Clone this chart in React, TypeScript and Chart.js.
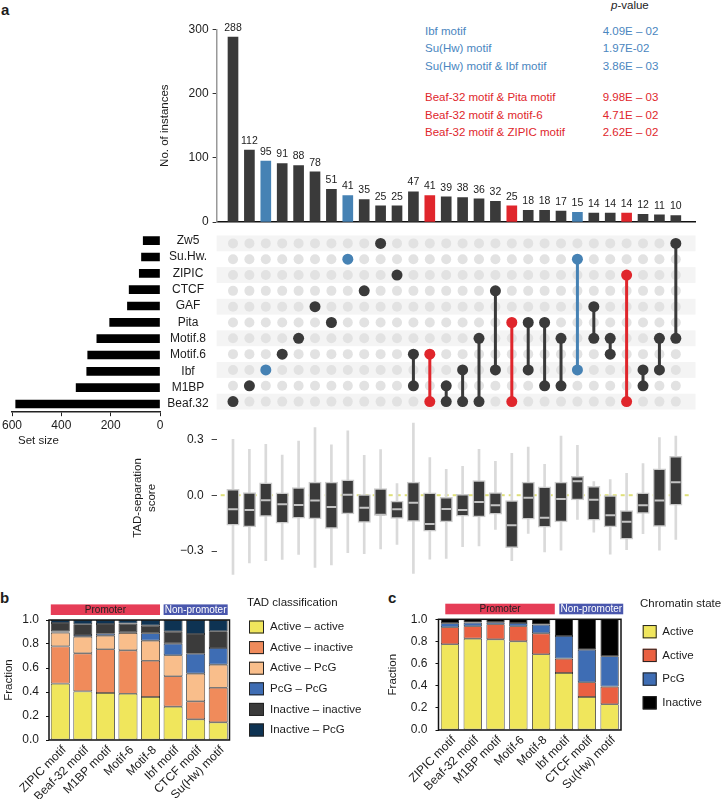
import React, { useEffect, useRef } from 'react';
import { Chart, registerables } from 'chart.js';

Chart.register(...registerables);

const FONT_FAMILY = '"Liberation Sans", Arial, Helvetica, sans-serif';
const INK = '#1c1c1c';
Chart.defaults.font.family = FONT_FAMILY;
Chart.defaults.color = INK;

// ---------------- Panel a: UpSet data ----------------
const setNames = ['Beaf.32', 'M1BP', 'Ibf', 'Motif.6', 'Motif.8', 'Pita', 'GAF', 'CTCF', 'ZIPIC', 'Su.Hw.', 'Zw5'];
const setSizes = [585, 340, 297, 293, 256, 204, 132, 125, 84, 75, 68];
const setSizeTicks = [0, 200, 400, 600];

const intersectionCounts = [288, 112, 95, 91, 88, 78, 51, 41, 35, 25, 25, 47, 41, 39, 38, 36, 32, 25, 18, 18, 17, 15, 14, 14, 14, 12, 11, 10];
const intersectionSets = [
  ['Beaf.32'], ['M1BP'], ['Ibf'], ['Motif.6'], ['Motif.8'], ['GAF'], ['Pita'], ['Su.Hw.'], ['CTCF'], ['Zw5'], ['ZIPIC'],
  ['Motif.6', 'M1BP'], ['Motif.6', 'Beaf.32'], ['M1BP', 'Beaf.32'], ['Ibf', 'Beaf.32'], ['Motif.8', 'Beaf.32'],
  ['CTCF', 'Ibf'], ['Pita', 'Beaf.32'], ['Pita', 'Ibf'], ['Pita', 'M1BP'], ['Motif.8', 'M1BP'], ['Su.Hw.', 'Ibf'],
  ['GAF', 'Motif.8'], ['Motif.8', 'Motif.6'], ['ZIPIC', 'Beaf.32'], ['Ibf', 'M1BP'], ['Motif.8', 'Ibf'], ['Zw5', 'Motif.8'],
];
const intersectionGroup = ['', '', 'blue', '', '', '', '', 'blue', '', '', '', '', 'red', '', '', '', '', 'red', '', '', '', 'blue', '', '', 'red', '', '', ''];
const countTicks = [0, 100, 200, 300];

// TAD-separation score box plots (one per intersection)
const boxMax = [0.30, 0.246, 0.273, 0.216, 0.291, 0.363, 0.270, 0.346, 0.214, 0.245, 0.063, 0.388, 0.202, 0.139, 0.155, 0.246, 0.182, 0.225, 0.259, 0.166, 0.318, 0.268, 0.073, 0.084, 0.118, 0.170, 0.309, 0.318];
const boxQ3 = [0.032, 0.014, 0.066, 0.013, 0.041, 0.070, 0.070, 0.082, 0.004, 0.036, -0.032, 0.070, 0.013, -0.012, 0.005, 0.079, 0.014, -0.029, 0.070, 0.045, 0.070, 0.102, 0.048, -0.002, -0.082, 0.013, 0.141, 0.209];
const boxMedian = [-0.075, -0.080, -0.027, -0.048, -0.052, -0.029, -0.064, 0.002, -0.068, -0.105, -0.075, -0.041, -0.155, -0.074, -0.080, -0.036, -0.054, -0.161, -0.013, -0.121, -0.020, 0.075, -0.025, -0.107, -0.143, -0.054, -0.029, 0.070];
const boxQ1 = [-0.161, -0.170, -0.114, -0.150, -0.123, -0.127, -0.179, -0.100, -0.146, -0.109, -0.125, -0.141, -0.193, -0.144, -0.113, -0.116, -0.102, -0.282, -0.129, -0.171, -0.143, -0.025, -0.134, -0.170, -0.236, -0.098, -0.168, -0.054];
const boxMin = [-0.425, -0.363, -0.352, -0.345, -0.318, -0.388, -0.375, -0.309, -0.314, -0.288, -0.264, -0.420, -0.343, -0.339, -0.277, -0.273, -0.184, -0.352, -0.205, -0.304, -0.295, -0.130, -0.198, -0.316, -0.293, -0.207, -0.295, -0.238];
const scoreTicks = [-0.3, 0, 0.3];

const pValueNames = ['Ibf motif', 'Su(Hw) motif', 'Su(Hw) motif & Ibf motif', 'Beaf-32 motif & Pita motif', 'Beaf-32 motif & motif-6', 'Beaf-32 motif & ZIPIC motif'];
const pValueTexts = ['4.09E – 02', '1.97E-02', '3.86E – 03', '9.98E – 03', '4.71E – 02', '2.62E – 02'];
const pValueGroup = ['blue', 'blue', 'blue', 'red', 'red', 'red'];

// ---------------- Panel b / c data ----------------
const motifLabels = ['ZIPIC motif', 'Beaf-32 motif', 'M1BP motif', 'Motif-6', 'Motif-8', 'Ibf motif', 'CTCF motif', 'Su(Hw) motif'];
const promoterGroups = [
  { label: 'Promoter', from: 0, to: 4 },
  { label: 'Non-promoter', from: 5, to: 7 },
];
const fractionTicks = [0, 0.2, 0.4, 0.6, 0.8, 1.0];

const tadClasses = ['Active – active', 'Active – inactive', 'Active – PcG', 'PcG – PcG', 'Inactive – inactive', 'Inactive – PcG'];
const tadActiveActive = [0.470, 0.405, 0.392, 0.386, 0.358, 0.278, 0.172, 0.147];
const tadActiveInactive = [0.310, 0.317, 0.364, 0.361, 0.303, 0.253, 0.150, 0.289];
const tadActivePcG = [0.115, 0.139, 0.113, 0.145, 0.167, 0.175, 0.231, 0.192];
const tadPcGPcG = [0.010, 0.014, 0.017, 0.005, 0.061, 0.097, 0.166, 0.139];
const tadInactiveInactive = [0.070, 0.089, 0.081, 0.073, 0.064, 0.100, 0.164, 0.139];
const tadInactivePcG = [0.025, 0.036, 0.033, 0.030, 0.047, 0.097, 0.117, 0.094];
const tadSeries = [tadActiveActive, tadActiveInactive, tadActivePcG, tadPcGPcG, tadInactiveInactive, tadInactivePcG];

const chromatinStates = ['Active', 'Active', 'PcG', 'Inactive'];
const chromActiveA = [0.774, 0.825, 0.819, 0.801, 0.684, 0.515, 0.298, 0.232];
const chromActiveB = [0.154, 0.112, 0.136, 0.136, 0.189, 0.130, 0.133, 0.160];
const chromPcG = [0.036, 0.033, 0.018, 0.030, 0.079, 0.204, 0.295, 0.274];
const chromInactive = [0.036, 0.030, 0.027, 0.033, 0.048, 0.151, 0.274, 0.334];
const chromSeries = [chromActiveA, chromActiveB, chromPcG, chromInactive];

// ---------------- styles ----------------
const DARK = '#3a3a3a';
const BLUE = '#4682b4';
const RED = '#e0262c';
const groupColor = (g: string) => (g === 'blue' ? BLUE : g === 'red' ? RED : DARK);
const tadColors = ['#f0e65c', '#f08b5b', '#f9be8b', '#3e6db4', '#3b3b3b', '#0e3353'];
const chromColors = ['#f0e65c', '#ea6041', '#3e6db4', '#000000'];
const bannerColors = ['#e63d57', '#4a57ad'];
const bannerText = ['#222222', '#ffffff'];

const X_MIN = -1;
const X_MAX = 28.2;
const PLOT_LEFT = 216.6;
const PLOT_RIGHT_PAD = 26.5;

const f = (size: number, weight: string = 'normal') => ({ family: FONT_FAMILY, size, weight });
const rowOf = (name: string) => setNames.indexOf(name);

const baseOptions = {
  responsive: false,
  maintainAspectRatio: false,
  animation: false,
  events: [],
};

// ---------------- chart configs ----------------
function countsConfig() {
  const labelPlugin = {
    id: 'countLabels',
    afterDatasetsDraw(chart: any) {
      const ctx = chart.ctx;
      const meta = chart.getDatasetMeta(0);
      ctx.save();
      ctx.font = `10.5px ${FONT_FAMILY}`;
      ctx.fillStyle = INK;
      ctx.textAlign = 'center';
      ctx.textBaseline = 'bottom';
      meta.data.forEach((el: any, i: number) => ctx.fillText(String(intersectionCounts[i]), el.x, el.y - 4));
      ctx.restore();
    },
  };
  return {
    type: 'bar',
    data: {
      datasets: [{
        data: intersectionCounts.map((c, i) => ({ x: i, y: c })),
        backgroundColor: intersectionGroup.map(groupColor),
        barThickness: 10,
      }],
    },
    options: {
      ...baseOptions,
      layout: { padding: { left: 158, right: PLOT_RIGHT_PAD, top: 29.3, bottom: 18 } },
      plugins: { legend: { display: false }, tooltip: { enabled: false } },
      scales: {
        x: {
          type: 'linear', min: X_MIN, max: X_MAX, offset: false,
          ticks: { display: false },
          grid: { display: false, drawTicks: false },
          border: { display: true, color: '#111', width: 1.5 },
          afterFit: (s: any) => { s.height = 0; },
        },
        y: {
          type: 'linear', min: 0, max: 300,
          afterBuildTicks: (s: any) => { s.ticks = countTicks.map((v) => ({ value: v })); },
          ticks: { font: f(12), color: INK, padding: 4 },
          grid: { drawOnChartArea: false, drawTicks: true, tickLength: 4, color: '#333' },
          border: { color: '#999', width: 1.5 },
          title: { display: true, text: 'No. of instances', font: f(11.5), color: INK, padding: { top: 0, bottom: 0 } },
          afterFit: (s: any) => { s.width = PLOT_LEFT - 158; },
        },
      },
    },
    plugins: [labelPlugin],
  };
}

function matrixConfig() {
  const activePts: any[] = [];
  const activeColors: string[] = [];
  intersectionSets.forEach((sets, i) => sets.forEach((s) => {
    activePts.push({ x: i, y: rowOf(s) });
    activeColors.push(groupColor(intersectionGroup[i]));
  }));
  const links = intersectionSets
    .map((sets, i) => ({ sets, i }))
    .filter((d) => d.sets.length > 1)
    .map(({ sets, i }) => {
      const rows = sets.map(rowOf);
      return {
        data: [{ x: i, y: Math.min(...rows) }, { x: i, y: Math.max(...rows) }],
        showLine: true,
        borderColor: groupColor(intersectionGroup[i]),
        borderWidth: 3,
        pointRadius: 0,
      };
    });
  const background: any[] = [];
  intersectionSets.forEach((_, i) => setNames.forEach((__, r) => background.push({ x: i, y: r })));
  const stripes = {
    id: 'rowStripes',
    beforeDatasetsDraw(chart: any) {
      const { ctx, chartArea, scales } = chart;
      ctx.save();
      ctx.fillStyle = '#f4f4f4';
      setNames.forEach((_, r) => {
        if (r % 2 !== 0) return;
        const y1 = scales.y.getPixelForValue(r + 0.5);
        const y2 = scales.y.getPixelForValue(r - 0.5);
        ctx.fillRect(chartArea.left, y1, chartArea.right - chartArea.left, y2 - y1);
      });
      ctx.restore();
    },
  };
  return {
    type: 'scatter',
    data: {
      datasets: [
        { data: activePts, pointBackgroundColor: activeColors, pointBorderWidth: 0, pointRadius: 5.5 },
        ...links,
        { data: background, pointBackgroundColor: '#e2e2e2', pointBorderWidth: 0, pointRadius: 5 },
      ],
    },
    options: {
      ...baseOptions,
      layout: { padding: { left: PLOT_LEFT, right: PLOT_RIGHT_PAD, top: 2.5, bottom: 2.8 } },
      plugins: { legend: { display: false }, tooltip: { enabled: false } },
      scales: {
        x: { type: 'linear', min: X_MIN, max: X_MAX, display: false },
        y: { type: 'linear', min: -0.5, max: setNames.length - 0.5, display: false },
      },
    },
    plugins: [stripes],
  };
}

function setSizeConfig() {
  const textPlugin = {
    id: 'setSizeText',
    afterDraw(chart: any) {
      const { ctx, chartArea, scales } = chart;
      ctx.save();
      ctx.fillStyle = INK;
      ctx.textBaseline = 'middle';
      // row labels, centred between the bars and the matrix
      ctx.font = `12px ${FONT_FAMILY}`;
      ctx.textAlign = 'center';
      setNames.forEach((name, r) => ctx.fillText(name, chartArea.right + 28, scales.y.getPixelForValue(r)));
      // axis title
      ctx.font = `11.5px ${FONT_FAMILY}`;
      ctx.textAlign = 'left';
      ctx.fillText('Set size', chartArea.left + 6, scales.x.top + 29);
      ctx.restore();
    },
  };
  return {
    type: 'bar',
    data: {
      datasets: [{
        data: setSizes.map((v, r) => ({ x: v, y: r })),
        backgroundColor: '#000',
        barThickness: 8,
      }],
    },
    options: {
      ...baseOptions,
      indexAxis: 'y',
      layout: { padding: { left: 12, right: 56, top: 2.5, bottom: 2.8 } },
      plugins: { legend: { display: false }, tooltip: { enabled: false } },
      scales: {
        x: {
          type: 'linear', reverse: true, min: 0, max: 600, offset: false,
          afterBuildTicks: (s: any) => { s.ticks = setSizeTicks.map((v) => ({ value: v })); },
          ticks: { font: f(12), color: INK, padding: 2 },
          grid: { drawOnChartArea: false, drawTicks: true, tickLength: 4, color: '#222' },
          border: { color: '#222', width: 1.5 },
          afterFit: (s: any) => { s.height = 40; },
        },
        y: { type: 'linear', min: -0.5, max: setNames.length - 0.5, offset: false, display: false },
      },
    },
    plugins: [textPlugin],
  };
}

function boxConfig() {
  const zeroLine = {
    id: 'zeroLine',
    beforeDatasetsDraw(chart: any) {
      const { ctx, scales } = chart;
      const y = scales.y.getPixelForValue(0);
      ctx.save();
      ctx.strokeStyle = '#dfe07a';
      ctx.lineWidth = 2;
      ctx.setLineDash([4, 4]);
      ctx.beginPath();
      ctx.moveTo(scales.x.getPixelForValue(-0.75), y);
      ctx.lineTo(scales.x.getPixelForValue(intersectionCounts.length - 0.1), y);
      ctx.stroke();
      ctx.restore();
    },
  };
  const fmt = (v: number) => (Math.abs(v) < 1e-9 ? '0.0' : v < 0 ? '\u2212' + Math.abs(v).toFixed(1) : v.toFixed(1));
  return {
    type: 'bar',
    data: {
      datasets: [
        {
          type: 'line',
          data: boxMedian.map((m, i) => ({ x: i, y: m })),
          showLine: false,
          pointStyle: 'line',
          pointRadius: 4.8,
          pointBorderWidth: 2,
          pointBorderColor: '#c4c4c4',
          pointBackgroundColor: '#c4c4c4',
        },
        {
          type: 'bar',
          data: boxQ1.map((q, i) => ({ x: i, y: [q, boxQ3[i]] })),
          backgroundColor: '#3a3a3a',
          borderColor: '#cacaca',
          borderWidth: 1.5,
          borderSkipped: false,
          barThickness: 12.5,
          grouped: false,
        },
        {
          type: 'bar',
          data: boxMin.map((m, i) => ({ x: i, y: [m, boxMax[i]] })),
          backgroundColor: '#dadada',
          barThickness: 2,
          grouped: false,
        },
      ],
    },
    options: {
      ...baseOptions,
      layout: { padding: { left: 131, right: PLOT_RIGHT_PAD, top: 20, bottom: 20 } },
      plugins: { legend: { display: false }, tooltip: { enabled: false } },
      scales: {
        x: { type: 'linear', min: X_MIN, max: X_MAX, offset: false, display: false },
        y: {
          type: 'linear', min: -0.45, max: 0.42,
          afterBuildTicks: (s: any) => { s.ticks = scoreTicks.map((v) => ({ value: v })); },
          ticks: { callback: (v: number) => fmt(v), font: f(12), color: INK, padding: 8 },
          grid: { drawOnChartArea: false, drawTicks: true, tickLength: 5, color: '#444' },
          border: { display: false },
          title: { display: true, text: ['TAD-separation', 'score'], font: f(11.5), color: INK, padding: { top: 0, bottom: 0 } },
          afterFit: (s: any) => { s.width = PLOT_LEFT - 131; },
        },
      },
    },
    plugins: [zeroLine],
  };
}

type LegendOpts = { title: string; titleX: number; titleY: number; boxX: number; firstY: number; gap: number; boxW: number; boxH: number; textX: number };

function stackedConfig(series: number[][], names: string[], colors: string[], o: {
  padLeft: number; yWidth: number; padRight: number; padTop: number; xHeight: number; barPct: number; bannerShift: number; tickPad: number; legend: LegendOpts;
}) {
  const frame = {
    id: 'frame',
    afterDatasetsDraw(chart: any) {
      const { ctx, chartArea: a } = chart;
      ctx.save();
      ctx.strokeStyle = '#111';
      ctx.lineWidth = 1.5;
      ctx.strokeRect(a.left, a.top, a.right - a.left, a.bottom - a.top);
      ctx.restore();
    },
  };
  const banners = {
    id: 'banners',
    afterDraw(chart: any) {
      const { ctx, chartArea } = chart;
      const meta = chart.getDatasetMeta(0);
      ctx.save();
      ctx.font = `10px ${FONT_FAMILY}`;
      ctx.textAlign = 'center';
      ctx.textBaseline = 'middle';
      promoterGroups.forEach((g, k) => {
        const a = meta.data[g.from];
        const b = meta.data[g.to];
        const x1 = a.x - a.width / 2 + o.bannerShift;
        const x2 = b.x + b.width / 2 + o.bannerShift;
        const y2 = chartArea.top - 5;
        const y1 = y2 - 10.6;
        ctx.fillStyle = bannerColors[k];
        ctx.fillRect(x1, y1, x2 - x1, y2 - y1);
        ctx.fillStyle = bannerText[k];
        ctx.fillText(g.label, (x1 + x2) / 2, (y1 + y2) / 2 + 0.5);
      });
      ctx.restore();
    },
  };
  const L = o.legend;
  const legend = {
    id: 'customLegend',
    afterDraw(chart: any) {
      const ctx = chart.ctx;
      ctx.save();
      ctx.font = `11.5px ${FONT_FAMILY}`;
      ctx.textAlign = 'left';
      ctx.textBaseline = 'middle';
      ctx.fillStyle = INK;
      ctx.fillText(L.title, L.titleX, L.titleY);
      chart.data.datasets.forEach((ds: any, k: number) => {
        const y = L.firstY + k * L.gap;
        ctx.fillStyle = ds.backgroundColor;
        ctx.fillRect(L.boxX, y - L.boxH / 2, L.boxW, L.boxH);
        ctx.strokeStyle = '#222';
        ctx.lineWidth = 1;
        ctx.strokeRect(L.boxX + 0.5, y - L.boxH / 2 + 0.5, L.boxW - 1, L.boxH - 1);
        ctx.fillStyle = INK;
        ctx.fillText(ds.label, L.textX, y);
      });
      ctx.restore();
    },
  };
  return {
    type: 'bar',
    data: {
      labels: motifLabels,
      datasets: names.map((label, k) => ({
        label,
        data: series[k],
        backgroundColor: colors[k],
        borderColor: '#1e1e1e',
        borderWidth: 0.8,
        borderSkipped: false,
        barPercentage: o.barPct,
        categoryPercentage: 1,
      })),
    },
    options: {
      ...baseOptions,
      layout: { padding: { left: o.padLeft, right: o.padRight, top: o.padTop, bottom: 0 } },
      plugins: { legend: { display: false }, tooltip: { enabled: false } },
      scales: {
        x: {
          stacked: true,
          ticks: { font: f(12), color: INK, minRotation: 45, maxRotation: 45, padding: 3, labelOffset: 4, autoSkip: false },
          grid: { display: false, drawTicks: false },
          border: { display: false },
          afterFit: (s: any) => { s.height = o.xHeight; },
        },
        y: {
          stacked: true, min: 0, max: 1,
          afterBuildTicks: (s: any) => { s.ticks = fractionTicks.map((v) => ({ value: v })); },
          ticks: { callback: (v: number) => v.toFixed(1), font: f(12), color: INK, padding: o.tickPad },
          grid: { drawOnChartArea: false, drawTicks: true, tickLength: 3, color: '#111' },
          border: { display: false },
          title: { display: true, text: 'Fraction', font: f(11.5), color: INK, padding: { top: 2, bottom: 0 } },
          afterFit: (s: any) => { s.width = o.yWidth; },
        },
      },
    },
    plugins: [frame, banners, legend],
  };
}

function ChartBox(props: { left: number; top: number; width: number; height: number; config: () => any }) {
  const ref = useRef<HTMLCanvasElement | null>(null);
  useEffect(() => {
    if (!ref.current) return;
    const chart = new Chart(ref.current, props.config());
    return () => chart.destroy();
  }, []);
  return (
    <canvas
      ref={ref}
      width={props.width}
      height={props.height}
      style={{ position: 'absolute', left: props.left, top: props.top, width: props.width, height: props.height }}
    />
  );
}

const panelLetter = (left: number, top: number, text: string) => (
  <div style={{ position: 'absolute', left, top, fontSize: 15, lineHeight: '15px', fontWeight: 'bold', whiteSpace: 'nowrap' }}>{text}</div>
);

export default function App() {
  return (
    <div style={{ position: 'absolute', left: 0, top: 0, width: 722, height: 799, background: '#fff', overflow: 'hidden', fontFamily: FONT_FAMILY, color: INK }}>
      {panelLetter(1, 2.3, 'a')}
      {panelLetter(0, 590.3, 'b')}
      {panelLetter(388, 590.3, 'c')}

      <div style={{ position: 'absolute', left: 611, top: -2.5, fontSize: 11.5, lineHeight: '14px', whiteSpace: 'nowrap' }}>
        <i>p</i>-value
      </div>
      {pValueNames.map((name, i) => {
        const top = 23.7 + i * 17.7 + (i >= 3 ? 13 : 0);
        const color = pValueGroup[i] === 'blue' ? '#4a86c0' : RED;
        return (
          <React.Fragment key={name}>
            <div style={{ position: 'absolute', left: 425, top, fontSize: 11.5, lineHeight: '14px', color, whiteSpace: 'nowrap' }}>{name}</div>
            <div style={{ position: 'absolute', left: 602.7, top, fontSize: 11.5, lineHeight: '14px', color, whiteSpace: 'nowrap' }}>{pValueTexts[i]}</div>
          </React.Fragment>
        );
      })}

      <ChartBox left={0} top={0} width={722} height={240} config={countsConfig} />
      <ChartBox left={0} top={230} width={722} height={185} config={matrixConfig} />
      <ChartBox left={0} top={230} width={216} height={225} config={setSizeConfig} />
      <ChartBox left={0} top={396.6} width={722} height={202.4} config={boxConfig} />
      <ChartBox
        left={0}
        top={590}
        width={380}
        height={209}
        config={() => stackedConfig(tadSeries, tadClasses, tadColors, {
          padLeft: 0, yWidth: 49, padRight: 150.5, padTop: 30, xHeight: 59, barPct: 0.84, bannerShift: 0, tickPad: 7,
          legend: { title: 'TAD classification', titleX: 247, titleY: 13, boxX: 249, firstY: 37, gap: 20.6, boxW: 15, boxH: 13, textX: 270 },
        })}
      />
      <ChartBox
        left={360}
        top={590}
        width={362}
        height={209}
        config={() => stackedConfig(chromSeries, chromatinStates, chromColors, {
          padLeft: 24, yWidth: 54.5, padRight: 101, padTop: 29.3, xHeight: 69, barPct: 0.8, bannerShift: 4.5, tickPad: 8,
          legend: { title: 'Chromatin state', titleX: 280, titleY: 14, boxX: 282.7, firstY: 41.7, gap: 23.7, boxW: 14, boxH: 13.3, textX: 302.3 },
        })}
      />
    </div>
  );
}
